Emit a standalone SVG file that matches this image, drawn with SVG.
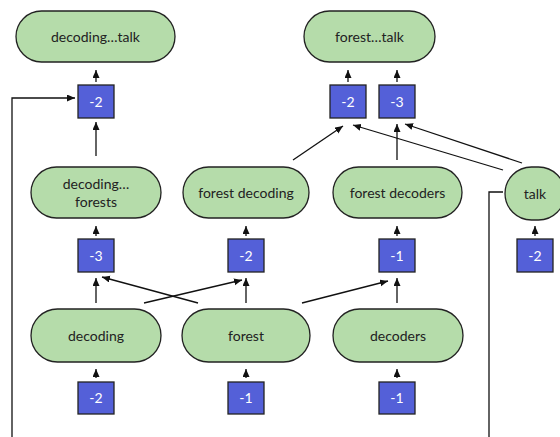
<svg xmlns="http://www.w3.org/2000/svg" width="560" height="437" viewBox="0 0 560 437">
  <defs>
    <marker id="arrow" markerUnits="userSpaceOnUse" markerWidth="9" markerHeight="8" refX="8" refY="3.5" orient="auto">
      <path d="M0,0 L8,3.5 L0,7 z" fill="#111"/>
    </marker>
    <style>
      .node rect { fill: #b5dcaa; stroke: #222; stroke-width: 1.3; }
      .node text { font-family: Lato, "Open Sans", sans-serif; font-size: 14px; fill: #222; text-anchor: middle; }
      .box rect { fill: #5460d8; stroke: #222; stroke-width: 1.3; }
      .box text { font-family: Lato, "Open Sans", sans-serif; font-size: 14px; fill: #fff; text-anchor: middle; }
      .edges path { fill: none; stroke: #111; stroke-width: 1.3; }
      .edges .a { marker-end: url(#arrow); }
    </style>
  </defs>

  <rect width="560" height="437" fill="#fff"/>

  <!-- connectors -->
  <g id="connectors" class="edges">
    <!-- box to parent node -->
    <path class="a" d="M96,82 V70"/>
    <path class="a" d="M348,82 V70"/>
    <path class="a" d="M397,82 V70"/>
    <path class="a" d="M96,236 V226"/>
    <path class="a" d="M246,236 V226"/>
    <path class="a" d="M397,236 V226"/>
    <path class="a" d="M535,236 V226"/>
    <path class="a" d="M96,378 V369"/>
    <path class="a" d="M246,378 V369"/>
    <path class="a" d="M397,378 V369"/>
    <!-- child node to box -->
    <path class="a" d="M96,156 V122"/>
    <path class="a" d="M397,160 V124"/>
    <path class="a" d="M96,303 V278"/>
    <path class="a" d="M246,303 V278"/>
    <path class="a" d="M397,303 V278"/>
    <path class="a" d="M293,160 L343,126"/>
    <path class="a" d="M503,170 L353,125"/>
    <path class="a" d="M522,163 L405,124"/>
    <path class="a" d="M198,303 L102,277"/>
    <path class="a" d="M144,303 L242,280"/>
    <path class="a" d="M302,303 L388,281"/>
    <!-- long links -->
    <path class="a" d="M12,437 V98 H75"/>
    <path d="M489,437 V192 H503"/>
  </g>

  <!-- top row -->
  <g id="n-decoding-talk" class="node">
    <rect x="16" y="11" width="159" height="51" rx="25.5"/>
    <text x="95.5" y="41.5">decoding…talk</text>
  </g>
  <g id="n-forest-talk" class="node">
    <rect x="304" y="11" width="131" height="51" rx="25.5"/>
    <text x="369.5" y="41.5">forest…talk</text>
  </g>

  <g id="b-top-1" class="box">
    <rect x="78" y="85" width="36" height="33"/>
    <text x="96" y="106.5">-2</text>
  </g>
  <g id="b-top-2" class="box">
    <rect x="330" y="85" width="36" height="33"/>
    <text x="348" y="106.5">-2</text>
  </g>
  <g id="b-top-3" class="box">
    <rect x="379" y="85" width="36" height="33"/>
    <text x="397" y="106.5">-3</text>
  </g>

  <!-- middle row -->
  <g id="n-decoding-forests" class="node">
    <rect x="31" y="167" width="130" height="51" rx="25.5"/>
    <text x="96" y="189">decoding…</text>
    <text x="96" y="207">forests</text>
  </g>
  <g id="n-forest-decoding" class="node">
    <rect x="183" y="167" width="126" height="51" rx="25.5"/>
    <text x="246" y="197.5">forest decoding</text>
  </g>
  <g id="n-forest-decoders" class="node">
    <rect x="333" y="167" width="129" height="51" rx="25.5"/>
    <text x="397.5" y="197.5">forest decoders</text>
  </g>
  <g id="n-talk" class="node">
    <rect x="505" y="167" width="60" height="53" rx="26.5"/>
    <text x="535" y="198.5">talk</text>
  </g>

  <g id="b-mid-1" class="box">
    <rect x="78" y="239" width="36" height="33"/>
    <text x="96" y="260.5">-3</text>
  </g>
  <g id="b-mid-2" class="box">
    <rect x="228" y="239" width="36" height="33"/>
    <text x="246" y="260.5">-2</text>
  </g>
  <g id="b-mid-3" class="box">
    <rect x="379" y="239" width="36" height="33"/>
    <text x="397" y="260.5">-1</text>
  </g>
  <g id="b-mid-4" class="box">
    <rect x="517" y="239" width="36" height="33"/>
    <text x="535" y="260.5">-2</text>
  </g>

  <!-- bottom row -->
  <g id="n-decoding" class="node">
    <rect x="31" y="309" width="130" height="53" rx="26.5"/>
    <text x="96" y="340.5">decoding</text>
  </g>
  <g id="n-forest" class="node">
    <rect x="182" y="309" width="128" height="53" rx="26.5"/>
    <text x="246" y="340.5">forest</text>
  </g>
  <g id="n-decoders" class="node">
    <rect x="333" y="309" width="130" height="53" rx="26.5"/>
    <text x="398" y="340.5">decoders</text>
  </g>

  <g id="b-bot-1" class="box">
    <rect x="78" y="382" width="36" height="32"/>
    <text x="96" y="403">-2</text>
  </g>
  <g id="b-bot-2" class="box">
    <rect x="228" y="382" width="36" height="32"/>
    <text x="246" y="403">-1</text>
  </g>
  <g id="b-bot-3" class="box">
    <rect x="379" y="382" width="36" height="32"/>
    <text x="397" y="403">-1</text>
  </g>
</svg>
